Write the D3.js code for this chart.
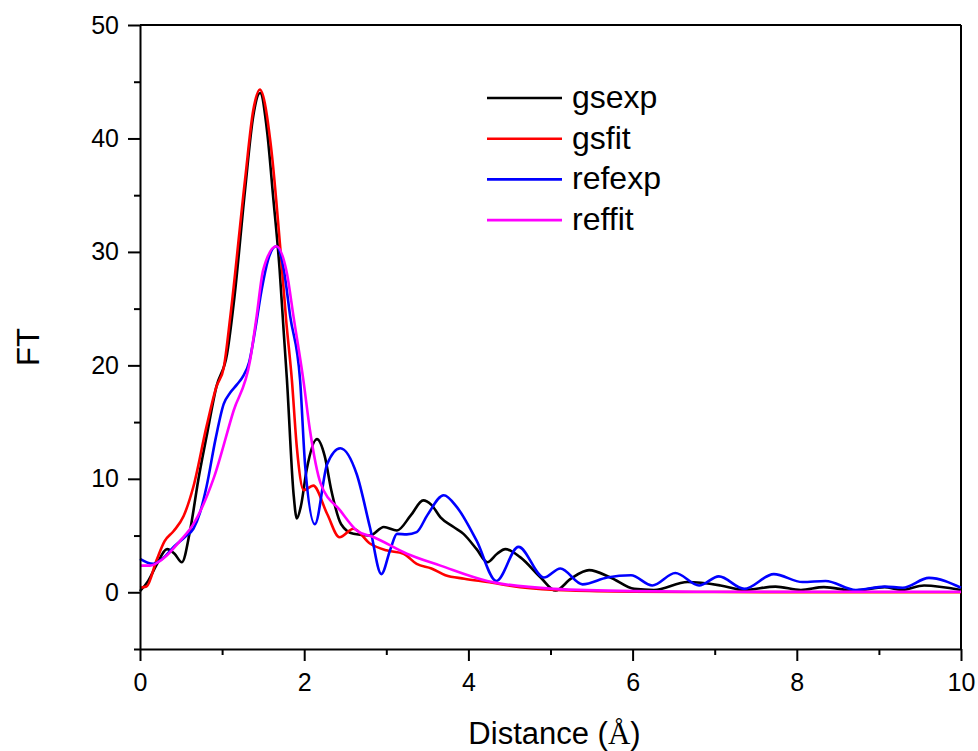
<!DOCTYPE html>
<html>
<head>
<meta charset="utf-8">
<script src="https://cdn.jsdelivr.net/npm/d3@7/dist/d3.min.js"></script>
<style>
  html, body { margin: 0; padding: 0; background: #fff; }
  svg { display: block; font-family: "Liberation Sans", Arial, sans-serif; }
</style>
</head>
<body>
<svg id="chart" width="978" height="751"></svg>
<script>
// ---- data (Distance in Å, FT magnitude) ----
const seriesNames = ["gsexp", "gsfit", "refexp", "reffit"];
const seriesColors = ["#000000", "#ff0000", "#0000ff", "#ff00ff"];

const gsexp = [
  [0,0.1],[0.1,1.0],[0.2,2.4],[0.33,3.8],[0.42,3.4],[0.51,2.65],[0.61,5.45],[0.71,9.9],
  [0.81,13.7],[0.93,18.1],[1.06,21],[1.15,26],[1.28,35.5],[1.38,42],[1.463,44.0],
  [1.55,40.5],[1.62,35],[1.70,28.5],[1.75,23],[1.79,18.7],[1.87,8.7],[1.91,6.5],
  [1.96,7.6],[2.03,10.8],[2.155,13.5],[2.25,12.0],[2.33,9.0],[2.45,6.0],[2.6,5.15],
  [2.8,5.0],[2.97,5.75],[3.13,5.45],[3.3,6.8],[3.45,8.1],[3.55,7.7],[3.66,6.6],
  [3.82,5.75],[3.94,5.15],[4.1,3.8],[4.23,2.65],[4.35,3.4],[4.45,3.8],[4.63,3.1],
  [4.88,1.3],[5.06,0.15],[5.25,1.2],[5.47,1.95],[5.73,1.3],[6.02,0.3],[6.26,0.2],
  [6.67,0.9],[7.07,0.6],[7.36,0.2],[7.74,0.5],[8.05,0.2],[8.33,0.45],[8.7,0.15],
  [9.07,0.45],[9.27,0.2],[9.55,0.6],[10,0.2]
];

const gsfit = [
  [0,0.4],[0.08,0.5],[0.2,2.8],[0.3,4.5],[0.41,5.4],[0.53,6.7],[0.65,9.3],[0.81,14.6],
  [0.93,18.1],[1.02,19.8],[1.1,24.3],[1.28,36.4],[1.38,42.5],[1.46,44.3],[1.6,39],
  [1.707,30.5],[1.78,24],[1.85,18.7],[1.91,12.8],[1.995,9.0],[2.11,9.4],[2.28,6.9],
  [2.43,4.85],[2.6,5.6],[2.8,4.3],[3.0,3.7],[3.21,3.4],[3.37,2.5],[3.55,2.1],
  [3.72,1.5],[3.95,1.2],[4.23,0.9],[4.63,0.45],[5.24,0.15],[6,0.05],[7,0.02],[10,0]
];

const refexp = [
  [0,2.95],[0.16,2.5],[0.28,3.0],[0.41,4.0],[0.55,4.9],[0.65,5.6],[0.73,7.0],[0.81,9.3],
  [0.92,13.5],[1.02,16.6],[1.1,17.6],[1.18,18.3],[1.26,19.1],[1.33,20.3],[1.40,23.0],
  [1.48,26.6],[1.56,29.3],[1.66,30.5],[1.75,28.5],[1.83,24.3],[1.95,18.7],[2.01,11.3],
  [2.13,6.0],[2.28,11.3],[2.44,12.7],[2.64,10.4],[2.8,5.75],[2.94,1.6],[3.05,3.8],
  [3.13,5.15],[3.25,5.1],[3.37,5.3],[3.5,6.8],[3.70,8.55],[3.86,7.5],[4.1,4.55],
  [4.34,1.0],[4.61,4.0],[4.92,1.3],[5.12,2.1],[5.39,0.7],[5.69,1.3],[5.98,1.5],
  [6.24,0.6],[6.52,1.7],[6.81,0.6],[7.05,1.4],[7.36,0.3],[7.72,1.6],[8.07,0.9],
  [8.35,1.0],[8.72,0.2],[9.07,0.5],[9.29,0.4],[9.61,1.27],[10,0.4]
];

const reffit = [
  [0,2.35],[0.12,2.35],[0.28,2.95],[0.49,4.55],[0.65,6.0],[0.9,10.1],[1.14,16.0],
  [1.34,20.4],[1.42,24.3],[1.5,28.4],[1.66,30.5],[1.79,28.1],[1.87,24.3],[1.99,18.7],
  [2.07,14.3],[2.2,9.6],[2.44,7.2],[2.64,5.45],[2.85,4.85],[3.25,3.4],[3.66,2.35],
  [4.23,1.0],[5.04,0.3],[6,0.1],[7,0.05],[10,0.05]
];

const xMajorTicks = [0, 2, 4, 6, 8, 10];
const xMinorTicks = [1, 3, 5, 7, 9];
const yMajorTicks = [0, 10, 20, 30, 40, 50];
const yMinorTicks = [-5, 5, 15, 25, 35, 45];

const xTitleMain = "Distance (";
const xTitleUnit = "Å";
const xTitleEnd = ")";
const yTitle = "FT";

// ---- layout ----
const svg = d3.select("#chart");
const mLeft = 140, mRight = 961, mTop = 25, mBottom = 649;

const x = d3.scaleLinear().domain([0, 10]).range([mLeft, mRight]);
const y = d3.scaleLinear().domain([-5, 50]).range([mBottom, mTop]);

const allSeries = [gsexp, gsfit, refexp, reffit];

// frame: top and right lines
svg.append("line").attr("x1", mLeft).attr("x2", mRight).attr("y1", mTop).attr("y2", mTop)
  .attr("stroke", "#000").attr("stroke-width", 2);
svg.append("line").attr("x1", mRight).attr("x2", mRight).attr("y1", mTop).attr("y2", mBottom)
  .attr("stroke", "#000").attr("stroke-width", 2);

// curves
const line = d3.line().x(d => x(d[0])).y(d => y(d[1])).curve(d3.curveMonotoneX);
allSeries.forEach((s, i) => {
  svg.append("path").datum(s)
    .attr("d", line)
    .attr("fill", "none")
    .attr("stroke", seriesColors[i])
    .attr("stroke-width", 2.6)
    .attr("stroke-linejoin", "round");
});

// axes
function styleAxis(g) {
  g.selectAll(".domain").attr("stroke", "#000").attr("stroke-width", 2);
  g.selectAll(".tick line").attr("stroke", "#000").attr("stroke-width", 2);
}

const gx = svg.append("g").attr("transform", `translate(0,${mBottom})`)
  .call(d3.axisBottom(x).tickValues(xMajorTicks).tickFormat(d3.format("d"))
    .tickSize(12).tickSizeOuter(0).tickPadding(12));
styleAxis(gx);
gx.selectAll(".tick text").attr("font-size", 25).attr("fill", "#000")
  .attr("font-family", "'Liberation Sans', Arial, sans-serif");

const gxm = svg.append("g").attr("transform", `translate(0,${mBottom})`)
  .call(d3.axisBottom(x).tickValues(xMinorTicks).tickFormat("").tickSize(6).tickSizeOuter(0));
styleAxis(gxm);
gxm.select(".domain").remove();

const gy = svg.append("g").attr("transform", `translate(${mLeft},0)`)
  .call(d3.axisLeft(y).tickValues(yMajorTicks).tickFormat(d3.format("d"))
    .tickSize(12).tickSizeOuter(0).tickPadding(9));
styleAxis(gy);
gy.selectAll(".tick text").attr("font-size", 25).attr("fill", "#000")
  .attr("font-family", "'Liberation Sans', Arial, sans-serif");

const gym = svg.append("g").attr("transform", `translate(${mLeft},0)`)
  .call(d3.axisLeft(y).tickValues(yMinorTicks).tickFormat("").tickSize(6).tickSizeOuter(0));
styleAxis(gym);
gym.select(".domain").remove();

// axis titles
const xt = svg.append("text").attr("x", (mLeft + mRight) / 2 + 4).attr("y", 744)
  .attr("text-anchor", "middle").attr("font-size", 31).attr("fill", "#000");
xt.append("tspan").text(xTitleMain);
xt.append("tspan").attr("font-family", "'Liberation Serif', 'DejaVu Serif', serif").text(xTitleUnit);
xt.append("tspan").text(xTitleEnd);

svg.append("text")
  .attr("transform", `translate(39,347) rotate(-90)`)
  .attr("text-anchor", "middle").attr("font-size", 31).attr("fill", "#000")
  .text(yTitle);

// legend
const legX1 = 487, legX2 = 562, legY0 = 98, legDy = 40.7;
seriesNames.forEach((name, i) => {
  const ly = legY0 + i * legDy;
  svg.append("line").attr("x1", legX1).attr("x2", legX2).attr("y1", ly).attr("y2", ly)
    .attr("stroke", seriesColors[i]).attr("stroke-width", 2.6);
  svg.append("text").attr("x", 572).attr("y", ly + 10)
    .attr("font-size", 32).attr("fill", "#000").text(name);
});
</script>
</body>
</html>
